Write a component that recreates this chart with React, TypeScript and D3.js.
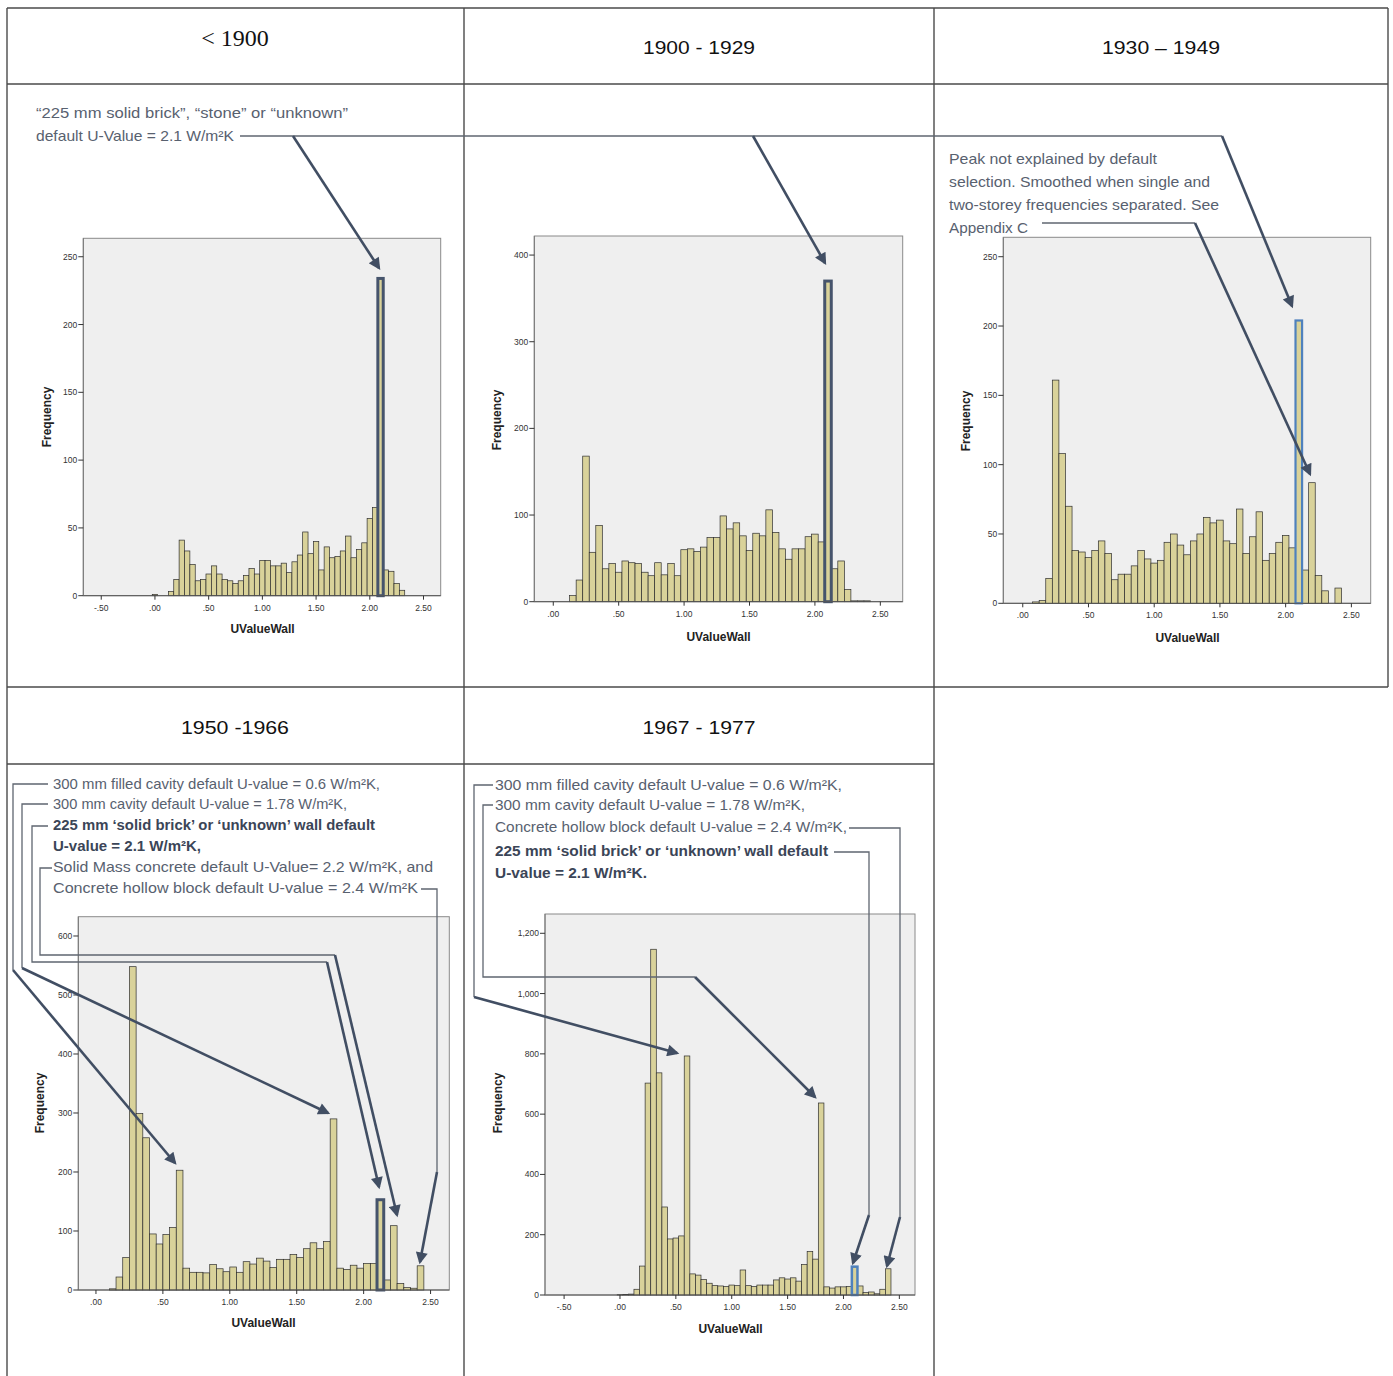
import React from "react";
import * as d3 from "d3";

// ---------- DATA ----------
const BIN_CENTERS = [
  0.0, 0.05, 0.1, 0.15, 0.2, 0.25, 0.3, 0.35, 0.4, 0.45,
  0.5, 0.55, 0.6, 0.65, 0.7, 0.75, 0.8, 0.85, 0.9, 0.95,
  1.0, 1.05, 1.1, 1.15, 1.2, 1.25, 1.3, 1.35, 1.4, 1.45,
  1.5, 1.55, 1.6, 1.65, 1.7, 1.75, 1.8, 1.85, 1.9, 1.95,
  2.0, 2.05, 2.1, 2.15, 2.2, 2.25, 2.3, 2.35, 2.4, 2.45,
];
const COUNTS_PRE_1900 = [
  1, 0, 0, 3, 12, 41, 33, 23, 11, 12,
  16, 22, 16, 12, 11, 9, 11, 15, 20, 16,
  26, 26, 22, 22, 24, 17, 25, 30, 47, 31,
  40, 19, 36, 28, 29, 33, 44, 28, 34, 39,
  57, 65, 234, 19, 18, 9, 4, 0, 0, 0,
];
const COUNTS_1900_1929 = [
  0, 0, 0, 7, 25, 168, 57, 88, 38, 44,
  34, 47, 45, 44, 34, 30, 45, 31, 44, 30,
  60, 61, 58, 63, 74, 74, 99, 84, 91, 76,
  59, 79, 76, 106, 80, 61, 49, 61, 61, 75,
  78, 69, 370, 38, 47, 14, 1, 1, 1, 0,
];
const COUNTS_1930_1949 = [
  0, 0, 1, 2, 18, 161, 108, 70, 38, 37,
  33, 38, 45, 36, 17, 21, 21, 27, 38, 32,
  29, 31, 44, 50, 42, 35, 45, 50, 62, 58,
  60, 45, 43, 68, 36, 48, 66, 31, 36, 44,
  49, 40, 204, 24, 87, 20, 9, 0, 11, 0,
];
const COUNTS_1950_1966 = [
  0, 0, 2, 22, 55, 548, 299, 258, 95, 78,
  94, 106, 203, 37, 30, 30, 29, 43, 36, 31,
  39, 30, 48, 44, 54, 49, 38, 52, 52, 60,
  55, 70, 80, 70, 82, 290, 37, 35, 42, 37,
  45, 45, 153, 17, 109, 11, 4, 3, 41, 0,
];
const COUNTS_1967_1977 = [
  1, 2, 3, 19, 96, 703, 1147, 737, 292, 186,
  189, 196, 793, 70, 66, 51, 39, 31, 30, 28,
  33, 31, 83, 31, 28, 33, 33, 33, 50, 57,
  53, 57, 46, 101, 144, 119, 637, 27, 23, 27,
  27, 28, 94, 30, 8, 10, 4, 19, 87, 0,
];
const HIGHLIGHT_BIN = 2.1;

const HEADERS = ["< 1900", "1900 - 1929", "1930 \u2013 1949", "1950 -1966", "1967 - 1977"];
const X_TICKS_NEG = [-0.5, 0, 0.5, 1, 1.5, 2, 2.5];
const X_TICKS_POS = [0, 0.5, 1, 1.5, 2, 2.5];
const Y_TICKS_250 = [0, 50, 100, 150, 200, 250];
const Y_TICKS_400 = [0, 100, 200, 300, 400];
const Y_TICKS_600 = [0, 100, 200, 300, 400, 500, 600];
const Y_TICKS_1200 = [0, 200, 400, 600, 800, 1000, 1200];
const X_TITLE = "UValueWall";
const Y_TITLE = "Frequency";

// ---------- STYLE / LAYOUT ----------
const BAR_FILL = "#d9d29a";
const BAR_STROKE = "#2e2e2e";
const PLOT_BG = "#efefef";
const HL_DARK = "#46546c";
const HL_BLUE = "#4f81bd";
const ARROW = "#414e63";
const THIN = "#5f6670";
const TEXT = "#58616f";
const TEXT_BOLD = "#3b4557";
const FONT = "'Liberation Sans', Arial, sans-serif";

const fmtX = (d: number) => (d < 0 ? "-" : "") + Math.abs(d).toFixed(2).replace(/^0\./, ".");

type Panel = {
  counts: number[];
  box: [number, number, number, number];
  xDomain: [number, number];
  yMax: number;
  xTicks: number[];
  yTicks: number[];
  yFmt: (d: number) => string;
  shift: number;
  hl: string;
  hlW: number;
  freq: [number, number];
  xt: [number, number];
};

const PANELS: Panel[] = [
  {
    counts: COUNTS_PRE_1900, box: [83.3, 238.3, 440.7, 595.7], xDomain: [-0.667, 2.66], yMax: 263.6,
    xTicks: X_TICKS_NEG, yTicks: Y_TICKS_250, yFmt: d3.format("d"), shift: 0, hl: HL_DARK, hlW: 3,
    freq: [46.5, 417], xt: [262.5, 629],
  },
  {
    counts: COUNTS_1900_1929, box: [534.3, 236, 902.7, 601.7], xDomain: [-0.145, 2.671], yMax: 422,
    xTicks: X_TICKS_POS, yTicks: Y_TICKS_400, yFmt: d3.format("d"), shift: 0, hl: HL_DARK, hlW: 3,
    freq: [496.5, 420], xt: [718.5, 636.5],
  },
  {
    counts: COUNTS_1930_1949, box: [1003.3, 237.3, 1370.7, 603.3], xDomain: [-0.148, 2.647], yMax: 264,
    xTicks: X_TICKS_POS, yTicks: Y_TICKS_250, yFmt: d3.format("d"), shift: 0, hl: HL_BLUE, hlW: 2.2,
    freq: [966, 421], xt: [1187.5, 637.5],
  },
  {
    counts: COUNTS_1950_1966, box: [78.3, 916.7, 449.3, 1290], xDomain: [-0.132, 2.64], yMax: 632.7,
    xTicks: X_TICKS_POS, yTicks: Y_TICKS_600, yFmt: d3.format("d"), shift: 0.025, hl: HL_DARK, hlW: 3,
    freq: [39.5, 1103], xt: [263.5, 1323],
  },
  {
    counts: COUNTS_1967_1977, box: [545, 914, 915, 1295], xDomain: [-0.671, 2.64], yMax: 1264,
    xTicks: X_TICKS_NEG, yTicks: Y_TICKS_1200, yFmt: d3.format(","), shift: 0, hl: HL_BLUE, hlW: 2.5,
    freq: [498, 1103], xt: [730.5, 1328.5],
  },
];

function Histogram({ p }: { p: Panel }) {
  const [x0, y0, x1, y1] = p.box;
  const x = d3.scaleLinear().domain(p.xDomain).range([x0, x1]);
  const y = d3.scaleLinear().domain([0, p.yMax]).range([y1, y0]);
  const half = 0.025;
  const hlIndex = BIN_CENTERS.findIndex((c) => Math.abs(c - HIGHLIGHT_BIN) < 1e-6);
  return (
    <g>
      <rect x={x0} y={y0} width={x1 - x0} height={y1 - y0} fill={PLOT_BG} stroke="#8a8a8a" strokeWidth={1} />
      {BIN_CENTERS.map((c, i) => {
        const v = p.counts[i];
        if (!v) return null;
        const bx = x(c + p.shift - half);
        const bw = x(c + p.shift + half) - bx;
        return (
          <rect key={i} x={bx} y={y(v)} width={bw} height={y(0) - y(v)} fill={BAR_FILL} stroke={BAR_STROKE} strokeWidth={0.7} />
        );
      })}
      {hlIndex >= 0 && (() => {
        const c = BIN_CENTERS[hlIndex];
        const v = p.counts[hlIndex];
        const bx = x(c + p.shift - half);
        const bw = x(c + p.shift + half) - bx;
        return (
          <rect x={bx} y={y(v)} width={bw} height={y(0) - y(v)} fill="none" stroke={p.hl} strokeWidth={p.hlW} />
        );
      })()}
      <line x1={x0} x2={x1} y1={y1} y2={y1} stroke="#555" strokeWidth={1} />
      <line x1={x0} x2={x0} y1={y0} y2={y1} stroke="#777" strokeWidth={1} />
      {p.yTicks.map((t) => (
        <g key={"y" + t}>
          <line x1={x0 - 5} x2={x0} y1={y(t)} y2={y(t)} stroke="#333" strokeWidth={1} />
          <text x={x0 - 6} y={y(t) + 3} fontSize={8.5} fontFamily={FONT} fill="#333" textAnchor="end">
            {p.yFmt(t)}
          </text>
        </g>
      ))}
      {p.xTicks.map((t) => (
        <g key={"x" + t}>
          <line x1={x(t)} x2={x(t)} y1={y1} y2={y1 + 4} stroke="#333" strokeWidth={1} />
          <text x={x(t)} y={y1 + 15} fontSize={8.5} fontFamily={FONT} fill="#333" textAnchor="middle">
            {fmtX(t)}
          </text>
        </g>
      ))}
      <text x={p.xt[0]} y={p.xt[1] + 4} fontSize={12} fontWeight="bold" fontFamily={FONT} fill="#222" textAnchor="middle">
        {X_TITLE}
      </text>
      <text
        transform={`translate(${p.freq[0] + 4},${p.freq[1]}) rotate(-90)`}
        fontSize={12}
        fontWeight="bold"
        fontFamily={FONT}
        fill="#222"
        textAnchor="middle"
      >
        {Y_TITLE}
      </text>
    </g>
  );
}

function T({ x, y, w, bold, children }: { x: number; y: number; w?: number; bold?: boolean; children: string }) {
  return (
    <text
      x={x}
      y={y}
      fontSize={14.5}
      fontFamily={FONT}
      fontWeight={bold ? "bold" : "normal"}
      fill={bold ? TEXT_BOLD : TEXT}
      textLength={w}
      lengthAdjust="spacingAndGlyphs"
    >
      {children}
    </text>
  );
}

function Thin({ pts }: { pts: number[][] }) {
  return <polyline points={pts.map((p) => p.join(",")).join(" ")} fill="none" stroke={THIN} strokeWidth={1.3} />;
}
function Arr({ a, b }: { a: number[]; b: number[] }) {
  return <line x1={a[0]} y1={a[1]} x2={b[0]} y2={b[1]} stroke={ARROW} strokeWidth={2.6} markerEnd="url(#ah)" />;
}

export default function App() {
  const W = 1393;
  const H = 1376;
  return (
    <div style={{ position: "absolute", left: 0, top: 0 }}>
      <svg width={W} height={H} style={{ display: "block", background: "#fff" }}>
        <defs>
          <marker id="ah" viewBox="0 0 10 10" refX="8" refY="5" markerWidth="15" markerHeight="12" orient="auto" markerUnits="userSpaceOnUse">
            <path d="M0,0 L10,5 L0,10 z" fill={ARROW} />
          </marker>
        </defs>

        {/* table grid */}
        <g stroke="#4a4a4a" strokeWidth={1.4} fill="none">
          <line x1={7} x2={1388} y1={8} y2={8} />
          <line x1={7} x2={1388} y1={84} y2={84} />
          <line x1={7} x2={1388} y1={687} y2={687} />
          <line x1={7} x2={934} y1={764} y2={764} />
          <line x1={7} x2={7} y1={8} y2={1376} />
          <line x1={464} x2={464} y1={8} y2={1376} />
          <line x1={934} x2={934} y1={8} y2={1376} />
          <line x1={1388} x2={1388} y1={8} y2={687} />
        </g>

        {/* headers */}
        <text x={235} y={46} fontSize={24} fontFamily="'Liberation Serif', 'Times New Roman', serif" fill="#111" textAnchor="middle">
          {HEADERS[0]}
        </text>
        <text x={699} y={54} fontSize={19} fontFamily={FONT} fill="#111" textAnchor="middle" textLength={112} lengthAdjust="spacingAndGlyphs">
          {HEADERS[1]}
        </text>
        <text x={1161} y={54} fontSize={19} fontFamily={FONT} fill="#111" textAnchor="middle" textLength={118} lengthAdjust="spacingAndGlyphs">
          {HEADERS[2]}
        </text>
        <text x={235} y={734} fontSize={19} fontFamily={FONT} fill="#111" textAnchor="middle" textLength={108} lengthAdjust="spacingAndGlyphs">
          {HEADERS[3]}
        </text>
        <text x={699} y={734} fontSize={19} fontFamily={FONT} fill="#111" textAnchor="middle" textLength={113} lengthAdjust="spacingAndGlyphs">
          {HEADERS[4]}
        </text>

        {PANELS.map((p, i) => (
          <Histogram key={i} p={p} />
        ))}

        {/* Row 1 annotations */}
        <T x={36} y={118} w={312}>{"\u201c225 mm solid brick\u201d, \u201cstone\u201d or \u201cunknown\u201d"}</T>
        <T x={36} y={141} w={198}>{"default U-Value = 2.1 W/m\u00b2K"}</T>
        <Thin pts={[[240, 136], [1222, 136]]} />
        <Arr a={[293, 136]} b={[379, 268]} />
        <Arr a={[753, 136]} b={[825, 263]} />
        <Arr a={[1222, 136]} b={[1292, 306]} />

        <T x={949} y={164} w={208}>Peak not explained by default</T>
        <T x={949} y={187} w={261}>selection. Smoothed when single and</T>
        <T x={949} y={210} w={270}>two-storey frequencies separated. See</T>
        <T x={949} y={233} w={79}>Appendix C</T>
        <Thin pts={[[1042, 223], [1195, 223]]} />
        <Arr a={[1195, 223]} b={[1310, 474]} />

        {/* Panel 4 annotations */}
        <T x={53} y={789} w={327}>{"300 mm filled cavity default U-value = 0.6 W/m\u00b2K,"}</T>
        <T x={53} y={809} w={294}>{"300 mm cavity default U-value = 1.78 W/m\u00b2K,"}</T>
        <T x={53} y={830} w={322} bold>{"225 mm \u2018solid brick\u2019 or \u2018unknown\u2019 wall default"}</T>
        <T x={53} y={851} w={148} bold>{"U-value = 2.1 W/m\u00b2K,"}</T>
        <T x={53} y={872} w={380}>{"Solid Mass concrete default U-Value= 2.2 W/m\u00b2K, and"}</T>
        <T x={53} y={893} w={365}>{"Concrete hollow block default U-value = 2.4 W/m\u00b2K"}</T>

        <Thin pts={[[48, 784], [13, 784], [13, 970]]} />
        <Arr a={[13, 970]} b={[175, 1163]} />
        <Thin pts={[[48, 804], [22, 804], [22, 968]]} />
        <Arr a={[22, 968]} b={[328, 1113]} />
        <Thin pts={[[48, 826], [32, 826], [32, 962], [327, 962]]} />
        <Arr a={[327, 962]} b={[379, 1187]} />
        <Thin pts={[[52, 868], [40, 868], [40, 955], [335, 955]]} />
        <Arr a={[335, 955]} b={[397, 1215]} />
        <Thin pts={[[421, 889], [437, 889], [437, 1172]]} />
        <Arr a={[437, 1172]} b={[420, 1262]} />

        {/* Panel 5 annotations */}
        <T x={495} y={790} w={347}>{"300 mm filled cavity default U-value = 0.6 W/m\u00b2K,"}</T>
        <T x={495} y={810} w={310}>{"300 mm cavity default U-value = 1.78 W/m\u00b2K,"}</T>
        <T x={495} y={832} w={352}>{"Concrete hollow block default U-value = 2.4 W/m\u00b2K,"}</T>
        <T x={495} y={856} w={333} bold>{"225 mm \u2018solid brick\u2019 or \u2018unknown\u2019 wall default"}</T>
        <T x={495} y={878} w={152} bold>{"U-value = 2.1 W/m\u00b2K."}</T>

        <Thin pts={[[493, 785], [474, 785], [474, 997]]} />
        <Arr a={[474, 997]} b={[677, 1053]} />
        <Thin pts={[[493, 805], [483, 805], [483, 977], [695, 977]]} />
        <Arr a={[695, 977]} b={[815, 1097]} />
        <Thin pts={[[849, 828], [900, 828], [900, 1217]]} />
        <Arr a={[900, 1217]} b={[887, 1266]} />
        <Thin pts={[[834, 852], [869, 852], [869, 1215]]} />
        <Arr a={[869, 1215]} b={[853, 1263]} />
      </svg>
    </div>
  );
}
